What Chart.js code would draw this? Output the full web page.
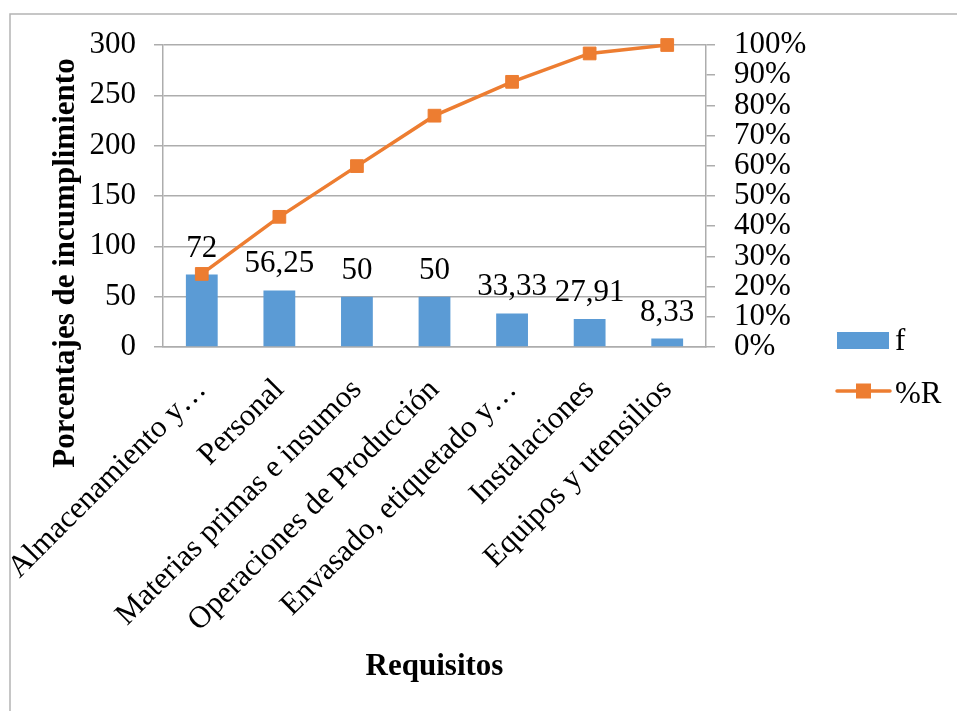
<!DOCTYPE html>
<html lang="es">
<head>
<meta charset="utf-8">
<title>Requisitos</title>
<script src="https://cdn.jsdelivr.net/npm/chart.js@4.4.1/dist/chart.umd.min.js"></script>
<style>
  html, body { margin: 0; padding: 0; background: #ffffff; }
  canvas { display: block; }
</style>
</head>
<body>
<canvas id="pareto" width="957" height="711"></canvas>
<script>
// Pareto data: non-compliance per requirement group and cumulative share
const categories = [
  'Almacenamiento y…',
  'Personal',
  'Materias primas e insumos',
  'Operaciones de Producción',
  'Envasado, etiquetado y…',
  'Instalaciones',
  'Equipos y utensilios'
];
const frequencies = [72, 56.25, 50, 50, 33.33, 27.91, 8.33];
const cumulativePercent = [24.2, 43.1, 59.9, 76.6, 87.8, 97.2, 100];
const leftTickValues = [0, 50, 100, 150, 200, 250, 300];
const rightTickValues = [0, 10, 20, 30, 40, 50, 60, 70, 80, 90, 100];

const seriesNames = { bars: 'f', line: '%R' };
const axisTitles = { x: 'Requisitos', y: 'Porcentajes de incumplimiento' };

const SERIF = "'Liberation Serif', 'Times New Roman', serif";
const BLUE = '#5B9BD5';
const ORANGE = '#ED7D31';
const GRID = '#ADADAD';

const fmtComma = v => String(v).replace('.', ',');

// light outer frame of the chart object
const framePlugin = {
  id: 'frame',
  beforeDraw(chart) {
    const ctx = chart.ctx;
    ctx.save();
    ctx.strokeStyle = '#B4B4B4';
    ctx.lineWidth = 1.5;
    ctx.strokeRect(10, 14, 1200, 1200);
    ctx.restore();
  }
};

// value labels above each bar
const barLabelPlugin = {
  id: 'barLabels',
  afterDatasetsDraw(chart) {
    const meta = chart.getDatasetMeta(0);
    const ctx = chart.ctx;
    ctx.save();
    ctx.font = '31px ' + SERIF;
    ctx.fillStyle = '#000';
    ctx.textAlign = 'center';
    ctx.textBaseline = 'alphabetic';
    meta.data.forEach((bar, i) => {
      ctx.fillText(fmtComma(frequencies[i]), bar.x, bar.y - 18);
    });
    ctx.restore();
  }
};

// rotated title of the left axis
const yTitlePlugin = {
  id: 'yTitle',
  afterDraw(chart) {
    const ctx = chart.ctx;
    ctx.save();
    ctx.translate(66, 263);
    ctx.rotate(-Math.PI / 2);
    ctx.font = 'bold 31px ' + SERIF;
    ctx.fillStyle = '#000';
    ctx.textAlign = 'center';
    ctx.textBaseline = 'middle';
    ctx.fillText(axisTitles.y, 0, 0);
    ctx.restore();
  }
};

// legend to the right of the secondary axis
const legendPlugin = {
  id: 'sideLegend',
  afterDraw(chart) {
    const { ctx, chartArea } = chart;
    const x0 = chartArea.right + 131;
    const b = chartArea.bottom;
    const ds = chart.data.datasets;
    ctx.save();
    ctx.font = '31px ' + SERIF;
    ctx.textBaseline = 'alphabetic';
    // bar entry
    ctx.fillStyle = ds[0].backgroundColor;
    ctx.fillRect(x0, b - 15, 52, 17);
    ctx.fillStyle = '#000';
    ctx.fillText(ds[0].label, x0 + 58, b + 3);
    // line entry
    const ly = b + 44;
    ctx.strokeStyle = ds[1].borderColor;
    ctx.lineWidth = 3.5;
    ctx.lineCap = 'round';
    ctx.beginPath();
    ctx.moveTo(x0, ly);
    ctx.lineTo(x0 + 53, ly);
    ctx.stroke();
    ctx.fillStyle = ds[1].borderColor;
    ctx.fillRect(x0 + 19, ly - 7.5, 15, 15);
    ctx.fillStyle = '#000';
    ctx.fillText(ds[1].label, x0 + 58, b + 56);
    ctx.restore();
  }
};

new Chart(document.getElementById('pareto'), {
  type: 'bar',
  data: {
    labels: categories,
    datasets: [
      {
        type: 'bar',
        label: seriesNames.bars,
        data: frequencies,
        backgroundColor: BLUE,
        borderWidth: 0,
        barPercentage: 0.41,
        categoryPercentage: 1,
        yAxisID: 'y',
        order: 1
      },
      {
        type: 'line',
        label: seriesNames.line,
        data: cumulativePercent,
        borderColor: ORANGE,
        backgroundColor: ORANGE,
        borderWidth: 3.5,
        pointStyle: 'rect',
        pointRadius: 9,
        pointBackgroundColor: ORANGE,
        pointBorderColor: ORANGE,
        pointBorderWidth: 1,
        tension: 0,
        clip: false,
        yAxisID: 'y1',
        order: 0
      }
    ]
  },
  options: {
    responsive: false,
    animation: false,
    events: [],
    layout: { padding: { top: 45, left: 0, right: 0, bottom: 0 } },
    plugins: {
      legend: { display: false },
      tooltip: { enabled: false }
    },
    scales: {
      x: {
        offset: true,
        grid: { display: false },
        border: { display: true, color: GRID, width: 1.5 },
        ticks: {
          autoSkip: false,
          minRotation: 45,
          maxRotation: 45,
          padding: 19,
          color: '#000',
          font: { family: SERIF, size: 31, lineHeight: 1 }
        },
        title: {
          display: true,
          text: axisTitles.x,
          color: '#000',
          font: { family: SERIF, size: 31, weight: 'bold' },
          padding: { top: 0, bottom: 25 }
        },
        afterFit(scale) {
          scale.height = 711 - 347;
          // rotated labels may hang past the plot edges; keep the plot box fixed
          scale.paddingLeft = 0;
          scale.paddingRight = 0;
        }
      },
      y: {
        position: 'left',
        min: 0,
        max: 300,
        afterBuildTicks(scale) { scale.ticks = leftTickValues.map(v => ({ value: v })); },
        grid: { color: GRID, lineWidth: 1.5, tickLength: 9, drawTicks: true },
        border: { display: true, color: GRID, width: 1.5 },
        ticks: {
          autoSkip: false,
          padding: 18,
          color: '#000',
          font: { family: SERIF, size: 31, lineHeight: 1 }
        },
        afterFit(scale) { scale.width = 163; }
      },
      y1: {
        position: 'right',
        min: 0,
        max: 100,
        afterBuildTicks(scale) { scale.ticks = rightTickValues.map(v => ({ value: v })); },
        grid: { drawOnChartArea: false, color: GRID, lineWidth: 1.5, tickLength: 9, drawTicks: true },
        border: { display: true, color: GRID, width: 1.5 },
        ticks: {
          autoSkip: false,
          padding: 19,
          color: '#000',
          font: { family: SERIF, size: 31, lineHeight: 1 },
          callback: v => v + '%'
        },
        afterFit(scale) { scale.width = 957 - 706; }
      }
    }
  },
  plugins: [framePlugin, barLabelPlugin, yTitlePlugin, legendPlugin]
});
</script>
</body>
</html>
